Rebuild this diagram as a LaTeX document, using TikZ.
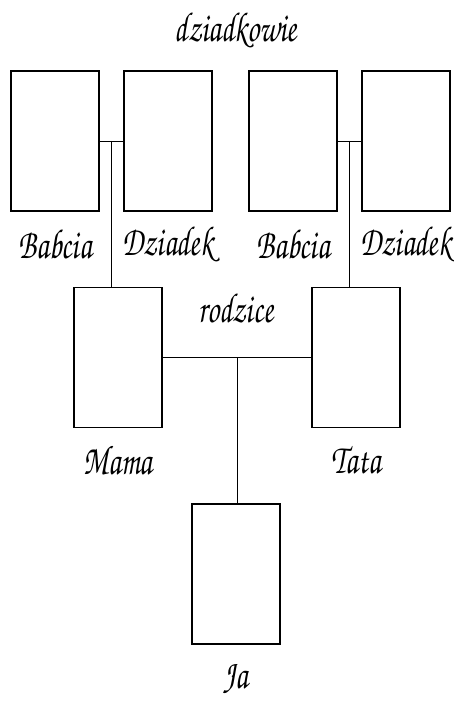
\documentclass[tikz,border=0pt]{standalone}
\usepackage[T1]{fontenc}
\newcommand{\hand}[1]{\scalebox{1}[1.4]{\fontfamily{pzc}\fontsize{30}{32}\selectfont #1}}
\begin{document}
\begin{tikzpicture}[x=1pt,y=-1pt,
  person/.style={draw,line width=1.4pt,minimum width=88pt,minimum height=140pt,inner sep=0pt},
  lbl/.style={inner sep=0pt},
  link/.style={line width=0.9pt}]
\useasboundingbox (0,0) rectangle (453,703);
\node[person] (b1) at (55,141) {};
\node[person] (d1) at (168,141) {};
\node[person] (b2) at (293,141) {};
\node[person] (d2) at (406,141) {};
\node[person] (mama) at (118,357.5) {};
\node[person] (tata) at (356,357.5) {};
\node[person] (ja) at (236,574) {};
\node[lbl] (tdz) at (236,30) {\hand{dziadkowie}};
\node[lbl] (tb1) at (55,244) {\hand{Babcia}};
\node[lbl] (td1) at (168,244) {\hand{Dziadek}};
\node[lbl] (tb2) at (293,244) {\hand{Babcia}};
\node[lbl] (td2) at (406,244) {\hand{Dziadek}};
\node[lbl] (trz) at (236,308) {\hand{rodzice}};
\node[lbl] (tm) at (118,460) {\hand{Mama}};
\node[lbl] (tt) at (356,460) {\hand{Tata}};
\node[lbl] (tja) at (236,679) {\hand{Ja}};
\draw[link] (b1.east) -- coordinate[pos=0.5] (m1) (d1.west);
\draw[link] (m1) -- (m1 |- mama.north);
\draw[link] (b2.east) -- coordinate[pos=0.5] (m2) (d2.west);
\draw[link] (m2) -- (m2 |- tata.north);
\draw[link] (mama.east) -- coordinate[pos=0.5] (m3) (tata.west);
\draw[link] (m3) -- (m3 |- ja.north);
\end{tikzpicture}
\end{document}
